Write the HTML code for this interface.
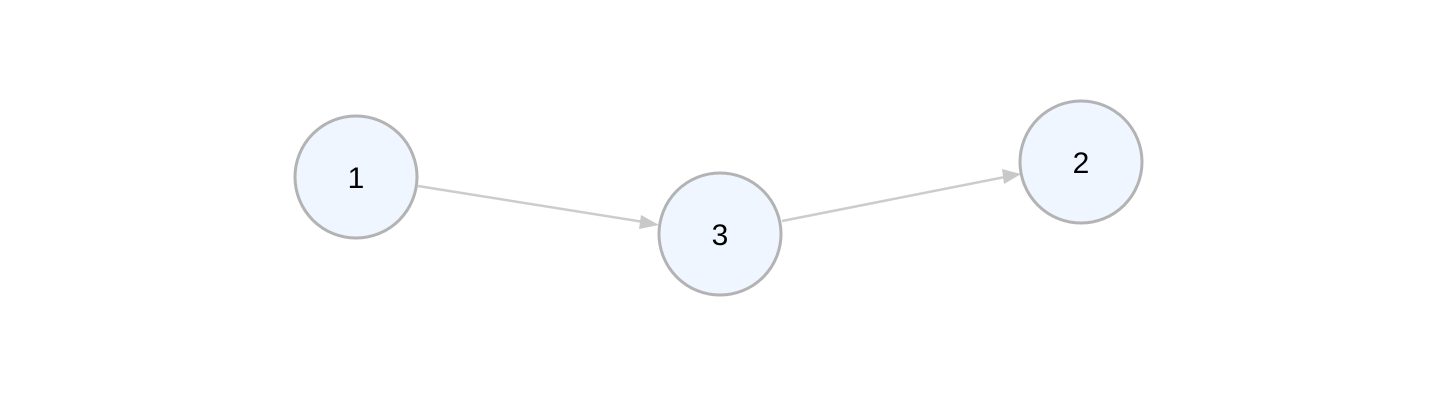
<!DOCTYPE html>
<html><head><meta charset="utf-8"><style>
html,body{margin:0;padding:0;background:#fff;width:1440px;height:400px;overflow:hidden}
</style></head><body>
<svg width="1440" height="400" viewBox="0 0 1440 400" xmlns="http://www.w3.org/2000/svg">
<defs>
<marker id="a" markerWidth="10" markerHeight="10" refX="9" refY="5" orient="auto" markerUnits="userSpaceOnUse" viewBox="0 0 10 10">
<path d="M0,0 L10,5 L0,10 z" fill="#c8c8c8"/>
</marker>
</defs>
<g stroke="#cccccc" stroke-width="2.5" fill="none">
<line x1="418" y1="186" x2="650" y2="223"/>
<line x1="782" y1="221" x2="1010" y2="176"/>
</g>
<path d="M641,215 L659,225 L639,229 z" fill="#c8c8c8"/>
<path d="M1002,169 L1021,174 L1004,184 z" fill="#c8c8c8"/>
<g fill="#eff6ff" stroke="#b3b3b3" stroke-width="3">
<circle cx="356" cy="177" r="61"/>
<circle cx="720" cy="234" r="61"/>
<circle cx="1081" cy="162" r="61"/>
</g>
<g font-family="Liberation Sans, sans-serif" font-size="30" text-anchor="middle" fill="#000">
<text x="356" y="188">1</text>
<text x="720" y="245">3</text>
<text x="1081" y="173">2</text>
</g>
</svg>
</body></html>
